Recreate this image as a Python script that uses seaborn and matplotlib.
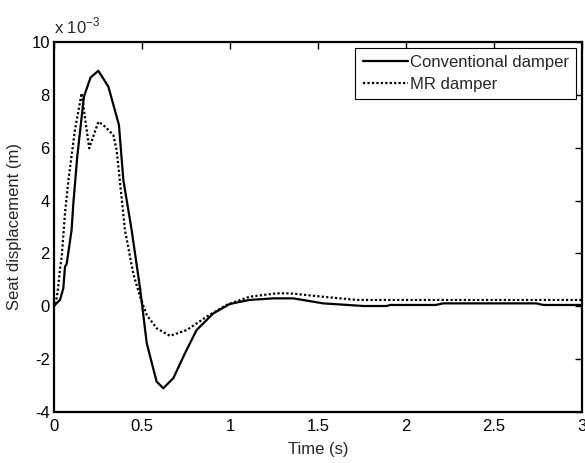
import numpy as np
import pandas as pd
import seaborn as sns
import matplotlib
matplotlib.use("Agg")
import matplotlib.pyplot as plt
from matplotlib.ticker import FuncFormatter

# values, displacement in units of 1e-3 m
t_conv = [0.0, 0.015, 0.034, 0.053, 0.0625, 0.072, 0.10, 0.11, 0.132, 0.170, 0.208, 0.252,
          0.309, 0.369, 0.394, 0.441, 0.489, 0.527, 0.583, 0.621, 0.678, 0.744, 0.81,
          0.905, 1.0, 1.11, 1.246, 1.36, 1.53, 1.76, 1.89, 1.91, 2.17, 2.21, 2.74, 2.78, 3.0]
y_conv = [0.0, 0.12, 0.24, 0.68, 1.5, 1.6, 2.89, 3.9, 5.66, 7.93, 8.66, 8.91,
          8.31, 6.86, 4.78, 2.89, 0.68, -1.40, -2.85, -3.10, -2.72, -1.78, -0.90,
          -0.27, 0.09, 0.24, 0.30, 0.30, 0.11, 0.01, 0.01, 0.05, 0.05, 0.11, 0.11, 0.05, 0.05]

t_mr = [0.0, 0.015, 0.024, 0.034, 0.044, 0.0625, 0.082, 0.119, 0.157, 0.2, 0.252, 0.28,
        0.309, 0.337, 0.356, 0.403, 0.45, 0.489, 0.527, 0.583, 0.659, 0.754, 0.868,
        0.98, 1.11, 1.265, 1.34, 1.53, 1.72, 3.0]
y_mr = [0.11, 0.3, 0.74, 1.4, 1.88, 3.52, 4.78, 6.67, 8.06, 5.98, 6.98, 6.86,
        6.67, 6.48, 5.91, 2.89, 1.25, 0.36, -0.33, -0.83, -1.12, -0.90, -0.39,
        0.05, 0.36, 0.49, 0.49, 0.36, 0.24, 0.24]

labels = ["Conventional damper", "MR damper"]
x_ticks = [0, 0.5, 1, 1.5, 2, 2.5, 3]
y_ticks = [-4, -2, 0, 2, 4, 6, 8, 10]

df = pd.concat([
    pd.DataFrame({"t": t_conv, "y": y_conv, "damper": labels[0]}),
    pd.DataFrame({"t": t_mr, "y": y_mr, "damper": labels[1]}),
])

sns.set_style("white")
plt.rcParams['font.family'] = ['Liberation Sans', 'DejaVu Sans']
plt.rcParams['font.size'] = 12
plt.rcParams['mathtext.fontset'] = 'custom'
plt.rcParams['mathtext.rm'] = 'Liberation Sans'

fig = plt.figure(figsize=(5.85, 4.63), dpi=100)
ax = fig.add_axes([54 / 585, 1 - 412 / 463, 528 / 585, 370 / 463])

sns.lineplot(data=df, x="t", y="y", hue="damper", style="damper",
             palette=["black", "black"], dashes=[(None, None), (1, 1)],
             linewidth=1.6, sort=False, estimator=None, ax=ax)

ax.set_xlim(0, 3)
ax.set_ylim(-4, 10)
ax.set_xticks(x_ticks)
ax.set_yticks(y_ticks)
fmt = FuncFormatter(lambda v, p: "%g" % v)
ax.xaxis.set_major_formatter(fmt)
ax.yaxis.set_major_formatter(fmt)
ax.tick_params(direction="in", length=5, width=1, top=True, right=True,
               labelsize=12, colors="black")
ax.tick_params(axis="x", pad=5)
ax.tick_params(axis="y", pad=3)
for s in ax.spines.values():
    s.set_visible(True)
    s.set_color("black")
    s.set_linewidth(1.6)

ax.set_xlabel("Time (s)", fontsize=12, labelpad=6)
ax.set_ylabel("Seat displacement (m)", fontsize=12, labelpad=7)
ax.text(0.0, 1.022, "x 10$^{\\mathregular{-3}}$", transform=ax.transAxes, fontsize=12,
        ha="left", va="baseline")

leg = ax.legend(loc="upper right", fontsize=12, frameon=True, fancybox=False,
                handlelength=2.7, borderpad=0.45, labelspacing=0.38,
                handletextpad=0.12, borderaxespad=0.35, title=None)
leg.get_frame().set_edgecolor("black")
leg.get_frame().set_linewidth(0.8)
leg.get_frame().set_alpha(1)

fig.savefig("out.png", dpi=100)
